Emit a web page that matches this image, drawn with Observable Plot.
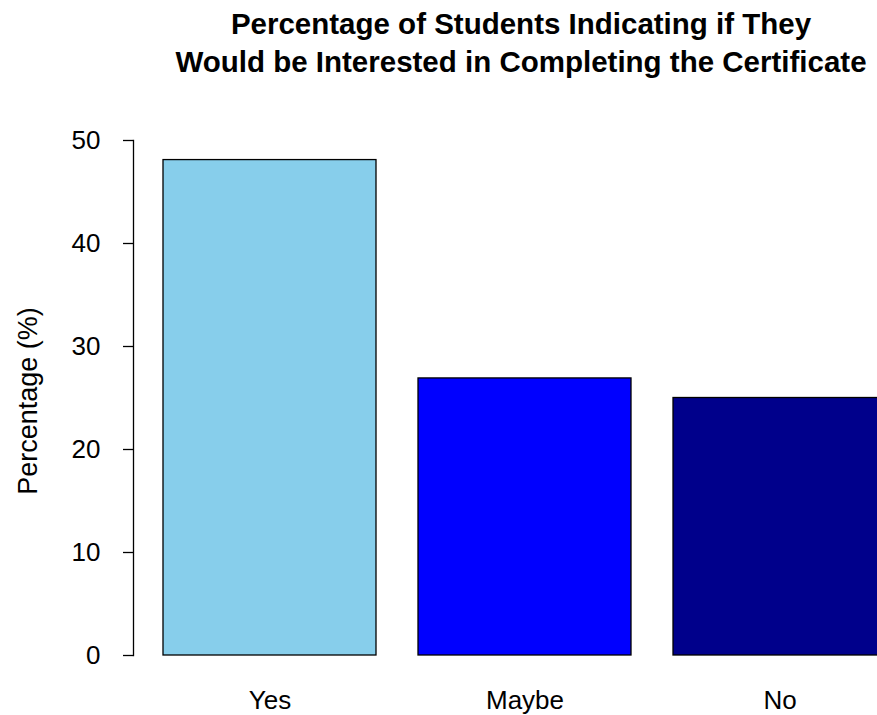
<!DOCTYPE html>
<html>
<head>
<meta charset="utf-8">
<script src="https://cdn.jsdelivr.net/npm/d3@7"></script>
<script src="https://cdn.jsdelivr.net/npm/@observablehq/plot@0.6"></script>
<style>
  html, body { margin: 0; padding: 0; background: white; overflow: hidden; }
  #wrap { position: relative; width: 877px; height: 715px; }
  #title { position: absolute; left: 0; top: 5px; width: 1042px; text-align: center;
    font-family: "Liberation Sans", Arial, Helvetica, sans-serif; font-weight: bold;
    font-size: 29.5px; line-height: 37.5px; color: #000; white-space: nowrap; }
  #chart { position: absolute; left: 0; top: 110px; }
</style>
</head>
<body>
<div id="wrap">
  <div id="title">Percentage of Students Indicating if They<br>Would be Interested in Completing the Certificate</div>
  <div id="chart"></div>
</div>
<script>
const categories = ["Yes", "Maybe", "No"];
const values = [48.1, 26.9, 25.0];
const colors = ["#87CEEB", "#0000FF", "#00008B"];
const yTicks = [0, 10, 20, 30, 40, 50];
const yLabel = "Percentage (%)";

const data = categories.map((c, i) => ({cat: c, value: values[i]}));
const font = '"Liberation Sans", Arial, Helvetica, sans-serif';

const chart = Plot.plot({
  width: 877,
  height: 605,
  marginTop: 30,
  marginBottom: 60,
  marginLeft: 133,
  marginRight: 0,
  style: {fontFamily: font, fontSize: "26px", background: "white", color: "black", overflow: "visible"},
  x: {domain: categories, range: [163, 886], paddingInner: 0.165, paddingOuter: 0, label: null},
  y: {domain: [0, 50], label: null},
  color: {domain: categories, range: colors},
  marks: [
    Plot.barY(data, {x: "cat", y: "value", fill: "cat", stroke: "black", strokeWidth: 1.3}),
    Plot.frame({anchor: "left", stroke: "black", strokeWidth: 1.3}),
    Plot.axisY({ticks: yTicks, tickSize: 10, tickPadding: 23, label: null, strokeWidth: 1.3, fontSize: 26}),
    Plot.axisX({tickSize: 0, tickPadding: 35, label: null, fontSize: 26}),
    Plot.text([yLabel], {frameAnchor: "left", textAnchor: "middle", lineAnchor: "middle", rotate: -90, dx: -105, dy: 3, fontSize: 27, fill: "black"})
  ]
});
document.getElementById("chart").appendChild(chart);
</script>
</body>
</html>
